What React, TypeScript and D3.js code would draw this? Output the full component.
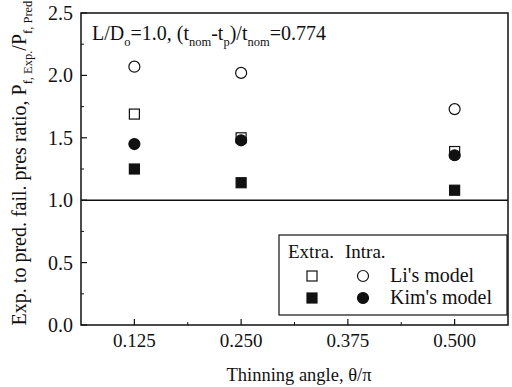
import { useEffect, useRef } from 'react'
import * as d3 from 'd3'

const ANGLES = [0.125, 0.25, 0.5]
const LI_EXTRA = [1.69, 1.5, 1.39]
const LI_INTRA = [2.07, 2.02, 1.73]
const KIM_EXTRA = [1.25, 1.14, 1.08]
const KIM_INTRA = [1.45, 1.48, 1.36]

const X_TICKS = [0.125, 0.25, 0.375, 0.5]
const Y_TICKS = [0, 0.5, 1.0, 1.5, 2.0, 2.5]

const W = 512
const H = 387
const M = { left: 81, right: 4, top: 13, bottom: 62 }
const FONT = "'Liberation Serif', 'DejaVu Serif', serif"

type Kind = 'square' | 'circle'

export default function App() {
  const ref = useRef<SVGSVGElement>(null)

  useEffect(() => {
    if (!ref.current) return
    const svg = d3.select(ref.current)
    svg.selectAll('*').remove()

    const x = d3.scaleLinear().domain([0.0625, 0.5625]).range([M.left, W - M.right])
    const y = d3.scaleLinear().domain([0, 2.5]).range([H - M.bottom, M.top])
    const [x0, x1] = x.range()
    const [yb, yt] = y.range()

    const g = svg.append('g').style('font-family', FONT).attr('fill', '#111')

    // frame
    g.append('rect')
      .attr('x', x0).attr('y', yt)
      .attr('width', x1 - x0).attr('height', yb - yt)
      .attr('fill', 'none').attr('stroke', '#111').attr('stroke-width', 1.5)

    // reference line at 1.0
    g.append('line')
      .attr('x1', x0).attr('x2', x1)
      .attr('y1', y(1)).attr('y2', y(1))
      .attr('stroke', '#111').attr('stroke-width', 1.5)

    // ticks (inward)
    const yMinor = d3.range(0.25, 2.5, 0.5)
    Y_TICKS.forEach(v => {
      g.append('line').attr('x1', x0).attr('x2', x0 + 6).attr('y1', y(v)).attr('y2', y(v))
        .attr('stroke', '#111').attr('stroke-width', 1.2)
      g.append('text')
        .attr('x', x0 - 8).attr('y', y(v) + 7)
        .attr('text-anchor', 'end').attr('font-size', 20)
        .text(v.toFixed(1))
    })
    yMinor.forEach(v => {
      g.append('line').attr('x1', x0).attr('x2', x0 + 3).attr('y1', y(v)).attr('y2', y(v))
        .attr('stroke', '#111').attr('stroke-width', 1)
    })
    const xMinor = d3.range(0.1875, 0.5625, 0.125)
    X_TICKS.forEach(v => {
      g.append('line').attr('x1', x(v)).attr('x2', x(v)).attr('y1', yb).attr('y2', yb - 6)
        .attr('stroke', '#111').attr('stroke-width', 1.2)
      g.append('text')
        .attr('x', x(v)).attr('y', yb + 22)
        .attr('text-anchor', 'middle').attr('font-size', 19)
        .text(v.toFixed(3))
    })
    xMinor.forEach(v => {
      g.append('line').attr('x1', x(v)).attr('x2', x(v)).attr('y1', yb).attr('y2', yb - 3)
        .attr('stroke', '#111').attr('stroke-width', 1)
    })

    const mark = (kind: Kind, filled: boolean, cx: number, cy: number) => {
      const fill = filled ? '#111' : '#fff'
      if (kind === 'square') {
        g.append('rect').attr('x', cx - 5).attr('y', cy - 5).attr('width', 10).attr('height', 10)
          .attr('fill', fill).attr('stroke', '#111').attr('stroke-width', 1.2)
      } else {
        g.append('circle').attr('cx', cx).attr('cy', cy).attr('r', 5.5)
          .attr('fill', fill).attr('stroke', '#111').attr('stroke-width', 1.2)
      }
    }

    const series: [number[], Kind, boolean][] = [
      [LI_INTRA, 'circle', false],
      [LI_EXTRA, 'square', false],
      [KIM_EXTRA, 'square', true],
      [KIM_INTRA, 'circle', true],
    ]
    series.forEach(([vals, kind, filled]) => {
      vals.forEach((v, i) => mark(kind, filled, x(ANGLES[i]), y(v)))
    })

    // annotation
    const ann = g.append('text').attr('x', 92).attr('y', 40).attr('font-size', 20)
    ann.append('tspan').text('L/D')
    ann.append('tspan').attr('font-size', 12.5).attr('dy', 6).text('o')
    ann.append('tspan').attr('dy', -6).text('=1.0, (t')
    ann.append('tspan').attr('font-size', 12.5).attr('dy', 6).text('nom')
    ann.append('tspan').attr('dy', -6).text('-t')
    ann.append('tspan').attr('font-size', 12.5).attr('dy', 6).text('p')
    ann.append('tspan').attr('dy', -6).text(')/t')
    ann.append('tspan').attr('font-size', 12.5).attr('dy', 6).text('nom')
    ann.append('tspan').attr('dy', -6).text('=0.774')

    // legend
    const lg = g.append('g')
    lg.append('rect').attr('x', 279).attr('y', 235).attr('width', 228).attr('height', 80)
      .attr('fill', '#fff').attr('stroke', '#111').attr('stroke-width', 1.2)
    lg.append('text').attr('x', 288).attr('y', 258).attr('font-size', 19).text('Extra.')
    lg.append('text').attr('x', 345).attr('y', 258).attr('font-size', 19).text('Intra.')
    const rows: [string, boolean][] = [["Li's model", false], ["Kim's model", true]]
    rows.forEach(([label, filled], i) => {
      const cy = 276 + i * 22
      mark('square', filled, 312, cy)
      mark('circle', filled, 363, cy)
      lg.append('text').attr('x', 390).attr('y', cy + 6).attr('font-size', 20).text(label)
    })

    // axis titles
    g.append('text').attr('x', 299).attr('y', 381)
      .attr('text-anchor', 'middle').attr('font-size', 18.5)
      .text('Thinning angle, θ/π')

    const yl = g.append('text')
      .attr('transform', `translate(26,${(yb + yt) / 2 - 6}) rotate(-90)`)
      .attr('text-anchor', 'middle').attr('font-size', 20)
    yl.append('tspan').text('Exp. to pred. fail. pres ratio, P')
    yl.append('tspan').attr('font-size', 12.5).attr('dy', 6).text('f, Exp.')
    yl.append('tspan').attr('dy', -6).text('/P')
    yl.append('tspan').attr('font-size', 12.5).attr('dy', 6).text('f, Pred')
  }, [])

  return (
    <svg
      ref={ref}
      width={W}
      height={H}
      style={{ position: 'absolute', left: 0, top: 0, background: '#fff' }}
    />
  )
}
